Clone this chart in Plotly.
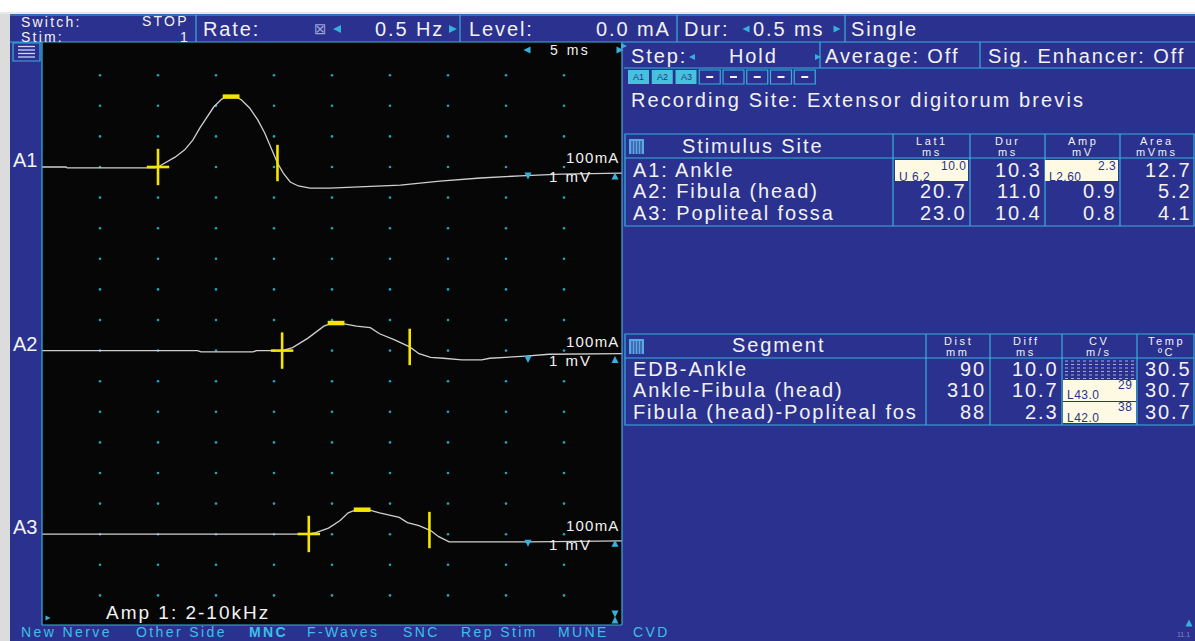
import plotly.graph_objects as go
import numpy as np

W, H = 1195, 641
BLUE = "#2b318e"
CYAN = "#38b0dc"
WHITE = "#f2f2f2"
YEL = "#f5e400"
NAVY = "#2a318c"
FONT = "Liberation Sans, Arial, sans-serif"
SYM = "DejaVu Sans"

# ---------------- data ----------------
channels = ["A1", "A2", "A3"]
offsets_div = [0, -6, -12]          # vertical trace positions (divisions, 1 mV/div)

a1_t = [0, 2.07, 2.16, 9.74, 10.0, 10.7, 11.5, 12.3, 13.0, 13.6, 14.2, 14.8, 15.5, 15.9, 16.7,
        17.2, 17.9, 18.6, 19.2, 19.8, 20.3, 20.8, 21.4, 22.1, 23.1, 24.8, 27.4, 30.9, 34.3,
        37.8, 41.2, 44.7, 50.0]
a1_v = [0, 0, -0.03, -0.03, 0, 0.16, 0.33, 0.56, 0.88, 1.27, 1.63, 1.96, 2.22, 2.3, 2.3,
        2.19, 1.93, 1.54, 1.11, 0.56, 0.13, -0.2, -0.49, -0.62, -0.69, -0.69, -0.65, -0.59, -0.46,
        -0.36, -0.29, -0.23, -0.2]

a2_t = [0, 13.4, 13.7, 18.2, 18.5, 20.7, 21.6, 22.9, 24.3, 25.0, 25.7, 27.1, 28.3, 29.1, 30.4,
        31.7, 32.5, 33.5, 34.6, 36.2, 37.9, 38.6, 41.7, 43.7, 50.0]
a2_v = [0, 0, -0.04, -0.04, 0, 0, 0.1, 0.4, 0.8, 0.9, 0.9, 0.8, 0.75, 0.55, 0.35,
        0.12, -0.1, -0.22, -0.25, -0.3, -0.3, -0.25, -0.18, -0.12, -0.1]

a3_t = [0, 22.9, 23.6, 24.7, 25.7, 26.4, 27.1, 28.1, 29.1, 30.1, 30.8, 31.5, 32.5, 33.5, 34.2,
        35.1, 42.1, 50.0]
a3_v = [0, 0, 0.05, 0.2, 0.45, 0.7, 0.8, 0.8, 0.7, 0.62, 0.55, 0.38, 0.28, 0.12, -0.08,
        -0.25, -0.25, -0.22]

traces_t = [a1_t, a2_t, a3_t]
traces_v = [a1_v, a2_v, a3_v]

sites = ["A1: Ankle", "A2: Fibula (head)", "A3: Popliteal fossa"]
lat1 = [10.0, 20.7, 23.0]
dur = [10.3, 11.0, 10.4]
amp = [2.3, 0.9, 0.8]
area = [12.7, 5.2, 4.1]
lat1_sub = ["U 6.2", None, None]
amp_sub = ["L2.60", None, None]
stim_headers = [("Lat1", "ms"), ("Dur", "ms"), ("Amp", "mV"), ("Area", "mVms")]

segments = ["EDB-Ankle", "Ankle-Fibula (head)", "Fibula (head)-Popliteal fos"]
dist = [90, 310, 88]
diff = [10.0, 10.7, 2.3]
cv = [None, 29, 38]
cv_sub = [None, "L43.0", "L42.0"]
temp = [30.5, 30.7, 30.7]
seg_headers = [("Dist", "mm"), ("Diff", "ms"), ("CV", "m/s"), ("Temp", "ºC")]

menu_items = ["New Nerve", "Other Side", "MNC", "F-Waves", "SNC", "Rep Stim", "MUNE", "CVD"]
menu_x = [20, 135, 248, 306, 402, 460, 557, 632]

# ---------------- helpers ----------------
shapes, ann = [], []


def X(x):
    return x / W


def Y(y):
    return 1 - y / H


def rect(x0, y0, x1, y1, fill=None, line=None, lw=1, layer="below"):
    shapes.append(dict(type="rect", xref="paper", yref="paper", x0=X(x0), x1=X(x1), y0=Y(y1), y1=Y(y0),
                       fillcolor=fill or "rgba(0,0,0,0)",
                       line=dict(color=line or "rgba(0,0,0,0)", width=lw if line else 0), layer=layer))


def seg(x0, y0, x1, y1, color=CYAN, lw=1.2, dash="solid", layer="above"):
    shapes.append(dict(type="line", xref="paper", yref="paper", x0=X(x0), x1=X(x1), y0=Y(y0), y1=Y(y1),
                       line=dict(color=color, width=lw, dash=dash), layer=layer))


def tri(cx, cy, d, s, color=CYAN):
    h = s / 2
    if d == "l":
        pts = [(cx + h, cy - h), (cx - h, cy), (cx + h, cy + h)]
    elif d == "r":
        pts = [(cx - h, cy - h), (cx + h, cy), (cx - h, cy + h)]
    elif d == "u":
        pts = [(cx - h, cy + h), (cx, cy - h), (cx + h, cy + h)]
    else:
        pts = [(cx - h, cy - h), (cx, cy + h), (cx + h, cy - h)]
    path = "M " + " L ".join(f"{X(a):.5f},{Y(b):.5f}" for a, b in pts) + " Z"
    shapes.append(dict(type="path", xref="paper", yref="paper", path=path, fillcolor=color,
                       line=dict(width=0), layer="above"))


def txt(x, y, s, size=20, color=WHITE, anchor="left", ls=1.9, family=FONT, bold=False):
    if bold:
        s = f"<b>{s}</b>"
    if ls:
        s = f'<span style="letter-spacing:{ls}px">{s}</span>'
    ann.append(dict(x=X(x), y=Y(y), xref="paper", yref="paper", text=s, showarrow=False,
                    xanchor=anchor, yanchor="middle", borderpad=0,
                    font=dict(size=size, color=color, family=family)))


# ---------------- background chrome ----------------
rect(0, 14, 10, 641, fill="#dcdcdc")
seg(0, 13, W, 13, color="#cfcfcf", lw=1, layer="below")
rect(10, 14, W, 641, fill=BLUE)
rect(42, 42, 622, 625, fill="#060606")

seg(10, 15, W, 15)
seg(10, 42, W, 42)
seg(42, 42, 42, 625)
seg(42, 625, 622, 625)
seg(622, 42, 622, 625)
seg(624, 68, W, 68)
for xd in [196, 460, 677, 845]:
    seg(xd, 15, xd, 42)
for xd in [820, 980]:
    seg(xd, 42, xd, 68)

# top bar
txt(20, 22, "Switch:", 14, ls=2.2)
txt(20, 37, "Stim:", 14, ls=2.2)
txt(190, 21, "STOP", 14, anchor="right", ls=2.2)
txt(189, 37, "1", 14, anchor="right", ls=0)
txt(202, 29, "Rate:")
txt(320, 29, "⊠", 15, color="#9aa2d8", anchor="center", ls=0, family=SYM)
tri(337, 29, "l", 8)
txt(445, 29, "0.5 Hz", anchor="right")
tri(453, 29, "r", 8)
txt(468, 29, "Level:")
txt(672, 29, "0.0 mA", anchor="right")
txt(683, 29, "Dur:")
tri(746, 29, "l", 7)
txt(752, 29, "0.5 ms")
tri(837, 29, "r", 7)
txt(850, 29, "Single")

# second row (right)
tri(624, 46, "r", 6)
txt(630, 56, "Step:")
tri(692, 57, "l", 6)
txt(728, 56, "Hold")
tri(818, 57, "r", 6)
txt(824, 56, "Average: Off")
txt(987, 56, "Sig. Enhancer: Off")

# channel selector boxes
for k in range(8):
    bx = 628 + k * 23.75
    if k < 3:
        rect(bx, 70, bx + 21, 84, fill="#46c3dc", layer="above")
        txt(bx + 10.5, 77.5, channels[k], 9, color=NAVY, anchor="center", ls=0)
    else:
        rect(bx, 70, bx + 21, 84, fill=BLUE, line=CYAN, lw=1.2, layer="above")
        seg(bx + 7, 77, bx + 14, 77, color=WHITE, lw=2)

txt(630, 100, "Recording Site: Extensor digitorum brevis", ls=2.1)

# left strip items
rect(13, 43, 40, 61, fill=BLUE, line=CYAN, lw=1.2, layer="above")
for yy in [46.5, 50, 53.5, 57]:
    seg(18, yy, 35, yy, color="#d0d4ff", lw=1.3)
for ch, off in zip(channels, offsets_div):
    txt(12, 160 + (-off) * 30.6, ch, 20, ls=0)

# panel annotations
tri(527, 50, "l", 7)
txt(549, 50, "5 ms", 14, ls=2.5)
tri(620, 50, "r", 7)
for off in offsets_div:
    base = 167 + (-off) * 30.6
    txt(621, base - 9, "100mA", 15, anchor="right", ls=1.2)
    txt(548, base + 10, "1 mV", 15, ls=2)
    tri(528, base + 9, "d", 7)
    tri(615, base + 9, "u", 7)
tri(48, 618, "r", 5)
txt(105, 612, "Amp 1: 2-10kHz", 19, ls=2)
tri(615, 614, "d", 7)
tri(615, 620, "u", 7)

# ---------------- stimulus table ----------------
rect(625, 134, 1194, 226, line=CYAN, lw=1.2, layer="above")
seg(625, 158, 1194, 158)
for xd in [893, 970, 1045, 1120]:
    seg(xd, 134, xd, 226)
rect(629, 139, 644, 154, fill="#5aa8e0", layer="above")
for xx in [632, 635, 638, 641]:
    seg(xx, 141, xx, 154, color=BLUE, lw=1)
txt(752, 146, "Stimulus Site", anchor="center")
hdr_cx = [932, 1008, 1083, 1157]
for (h1, h2), cx in zip(stim_headers, hdr_cx):
    txt(cx, 140.5, h1, 11, anchor="center", ls=2.6)
    txt(cx, 152, h2, 11, anchor="center", ls=2.6)
row_y = [170, 191, 213]
col_r = [968, 1043, 1118, 1193]
for i, y in enumerate(row_y):
    txt(632, y, sites[i])
    cols = [lat1[i], dur[i], amp[i], area[i]]
    subs = [lat1_sub[i], None, amp_sub[i], None]
    for j, (val, r) in enumerate(zip(cols, col_r)):
        if subs[j]:
            rect(r - 73, y - 10, r, y + 11, fill="#fdf9e3", layer="above")
            txt(r - 1, y - 4.5, f"{val:.1f}", 12, color=NAVY, anchor="right", ls=0.5)
            txt(r - 70, y + 6.5, subs[j], 12, color=NAVY, ls=0.5)
        else:
            txt(r, y, f"{val:.1f}", anchor="right")

# ---------------- segment table ----------------
rect(625, 334, 1194, 425, line=CYAN, lw=1.2, layer="above")
seg(625, 358, 1194, 358)
for xd in [926, 990, 1062, 1137]:
    seg(xd, 334, xd, 425)
rect(629, 339, 644, 354, fill="#5aa8e0", layer="above")
for xx in [632, 635, 638, 641]:
    seg(xx, 341, xx, 354, color=BLUE, lw=1)
txt(778, 345, "Segment", anchor="center")
seg_cx = [958, 1026, 1099, 1166]
for (h1, h2), cx in zip(seg_headers, seg_cx):
    txt(cx, 340.5, h1, 11, anchor="center", ls=2.6)
    txt(cx, 352, h2, 11, anchor="center", ls=2.6)
srow_y = [369, 390, 412]
for i, y in enumerate(srow_y):
    txt(632, y, segments[i])
    txt(987, y, f"{dist[i]}", anchor="right")
    txt(1060, y, f"{diff[i]:.1f}", anchor="right")
    txt(1193, y, f"{temp[i]:.1f}", anchor="right")
    if cv[i] is None:
        for yy in np.arange(y - 8, y + 10, 3.5):
            seg(1065, yy, 1134, yy, color="#a9acd6", lw=1, dash="dot")
    else:
        rect(1063, y - 10, 1136, y + 11, fill="#fdf9e3", layer="above")
        txt(1133, y - 5, f"{cv[i]}", 12, color=NAVY, anchor="right", ls=0.5)
        txt(1066, y + 5.5, cv_sub[i], 12, color=NAVY, ls=0.5)

# ---------------- bottom menu ----------------
for item, mx in zip(menu_items, menu_x):
    txt(mx, 632, item, 14, color="#3cc0e6", ls=2.4, bold=(item == "MNC"))
txt(1183, 634, "11.1", 7, color="#8088c0", anchor="center", ls=0)
tri(1189, 623, "u", 7)

# ---------------- waveform plot ----------------
fig = go.Figure()

gx, gy = np.meshgrid(np.arange(5, 46, 5), np.arange(-14, 4, 1))
fig.add_trace(go.Scatter(x=gx.ravel(), y=gy.ravel(), mode="markers",
                         marker=dict(size=2.6, color="#1fa6b8"), hoverinfo="skip"))

for t, v, off, la, du in zip(traces_t, traces_v, offsets_div, lat1, dur):
    t = np.array(t, float)
    v = np.array(v, float)
    fig.add_trace(go.Scatter(x=t, y=v + off, mode="lines", line=dict(color="#cfcfcf", width=1.3),
                             hoverinfo="skip"))
    on_v = np.interp(la, t, v) + off
    end_v = np.interp(la + du, t, v) + off
    pk = int(np.argmax(v))
    fig.add_trace(go.Scatter(x=[la, la + du], y=[on_v, end_v], mode="markers",
                             marker=dict(symbol="line-ns", size=26, line=dict(color=YEL, width=2.6)),
                             hoverinfo="skip"))
    fig.add_trace(go.Scatter(x=[la], y=[on_v], mode="markers",
                             marker=dict(symbol="line-ew", size=16, line=dict(color=YEL, width=2.6)),
                             hoverinfo="skip"))
    fig.add_trace(go.Scatter(x=[(t[pk] + t[pk + 1]) / 2 if v[pk + 1] == v[pk] else t[pk]], y=[v[pk] + off],
                             mode="markers",
                             marker=dict(symbol="line-ew", size=12, line=dict(color=YEL, width=4.5)),
                             hoverinfo="skip"))

y_top = (167 - 42) / 30.6
y_bot = -(625 - 167) / 30.6
fig.update_layout(
    width=W, height=H, margin=dict(l=0, r=0, t=0, b=0),
    paper_bgcolor="white", plot_bgcolor="rgba(0,0,0,0)",
    xaxis=dict(domain=[X(42), X(622)], range=[0, 50], visible=False, fixedrange=True),
    yaxis=dict(domain=[Y(625), Y(42)], range=[y_bot, y_top], visible=False, fixedrange=True),
    showlegend=False, shapes=shapes, annotations=ann, hovermode=False,
)

fig.write_html("out.html", config={"displayModeBar": False},
               post_script="document.body.style.margin='0';document.body.style.overflow='hidden';")
